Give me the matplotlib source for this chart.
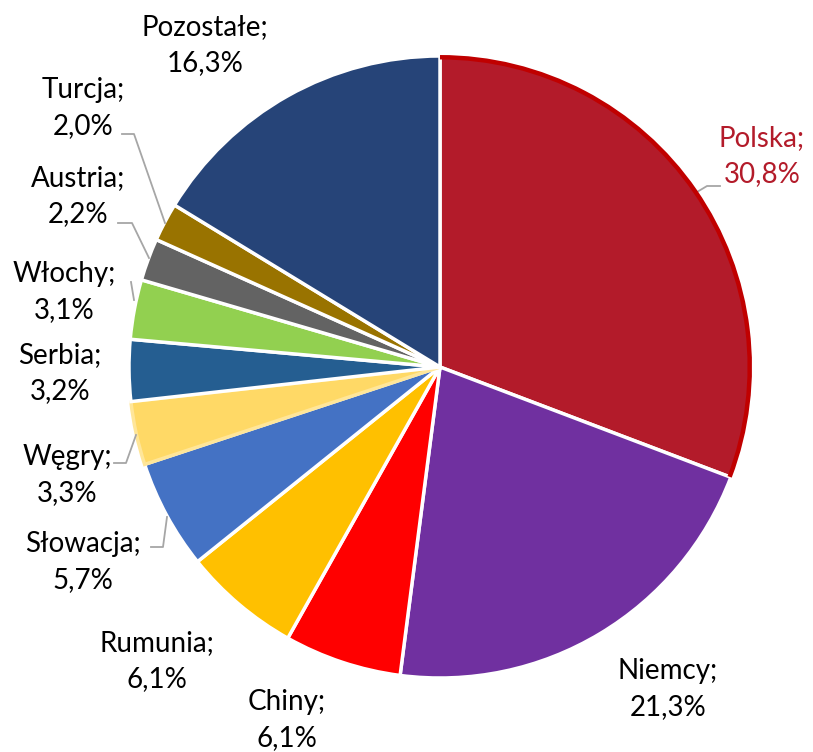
import matplotlib
matplotlib.use('Agg')
import matplotlib.pyplot as plt
from matplotlib.patches import Arc

countries = ['Polska', 'Niemcy', 'Chiny', 'Rumunia', 'Słowacja', 'Węgry',
             'Serbia', 'Włochy', 'Austria', 'Turcja', 'Pozostałe']
shares = [30.8, 21.3, 6.1, 6.1, 5.7, 3.3, 3.2, 3.1, 2.2, 2.0, 16.3]
colors = ['#B31B2A', '#7030A0', '#FF0000', '#FFC000', '#4472C4', '#FFD966',
          '#255E91', '#92D050', '#636363', '#997300', '#264478']

# label centres in pixel coords of the 813x752 picture
label_pos = {
    'Polska': (762, 156), 'Niemcy': (668, 689), 'Chiny': (287, 720),
    'Rumunia': (157, 661), 'Słowacja': (83, 562), 'Węgry': (67, 475),
    'Serbia': (60, 373), 'Włochy': (64, 292), 'Austria': (78, 196),
    'Turcja': (83, 108), 'Pozostałe': (205, 45),
}
# leader lines (pixel coords)
leaders = {
    'Polska': [(720, 186), (707, 186), (697, 192)],
    'Słowacja': [(151, 547), (163, 547), (167, 517)],
    'Węgry': [(114, 463), (126, 463), (136, 435)],
    'Włochy': [(131, 282), (134, 300)],
    'Austria': [(118, 223), (132, 223), (149, 258)],
    'Turcja': [(122, 134), (134, 134), (165, 223)],
}

CX, CY, R = 440, 367, 311


def px(x, y):
    return (x - CX) / R, (CY - y) / R


fig = plt.figure(figsize=(8.13, 7.52), dpi=100)
ax = fig.add_axes([0, 0, 1, 1])
wedges, _ = ax.pie(shares, colors=colors, startangle=90, counterclock=False,
                   radius=1, wedgeprops=dict(edgecolor='white', linewidth=2.5))
wedges[5].set_edgecolor('#FFE699')
wedges[5].set_linewidth(2.5)

# red outline on the outer arc of the Polska slice
w0 = wedges[0]
ax.add_patch(Arc((0, 0), 2 - 0.008, 2 - 0.008, theta1=w0.theta1, theta2=w0.theta2,
                 color='#C00000', lw=3.2, zorder=5))

for name, val in zip(countries, shares):
    x, y = px(*label_pos[name])
    col = '#B31B2A' if name == 'Polska' else 'black'
    txt = f"{name};\n{val:.1f}%".replace('.', ',')
    ax.text(x, y, txt, ha='center', va='center', fontsize=20,
            family='Lato', color=col, linespacing=1.5)

for name, pts in leaders.items():
    xs, ys = zip(*[px(*p) for p in pts])
    ax.plot(xs, ys, color='#A6A6A6', lw=1.3, zorder=4)

ax.set_xlim(-CX / R, (813 - CX) / R)
ax.set_ylim(-(752 - CY) / R, CY / R)
ax.set_aspect('auto')
ax.axis('off')
fig.savefig('out.png', dpi=100)
